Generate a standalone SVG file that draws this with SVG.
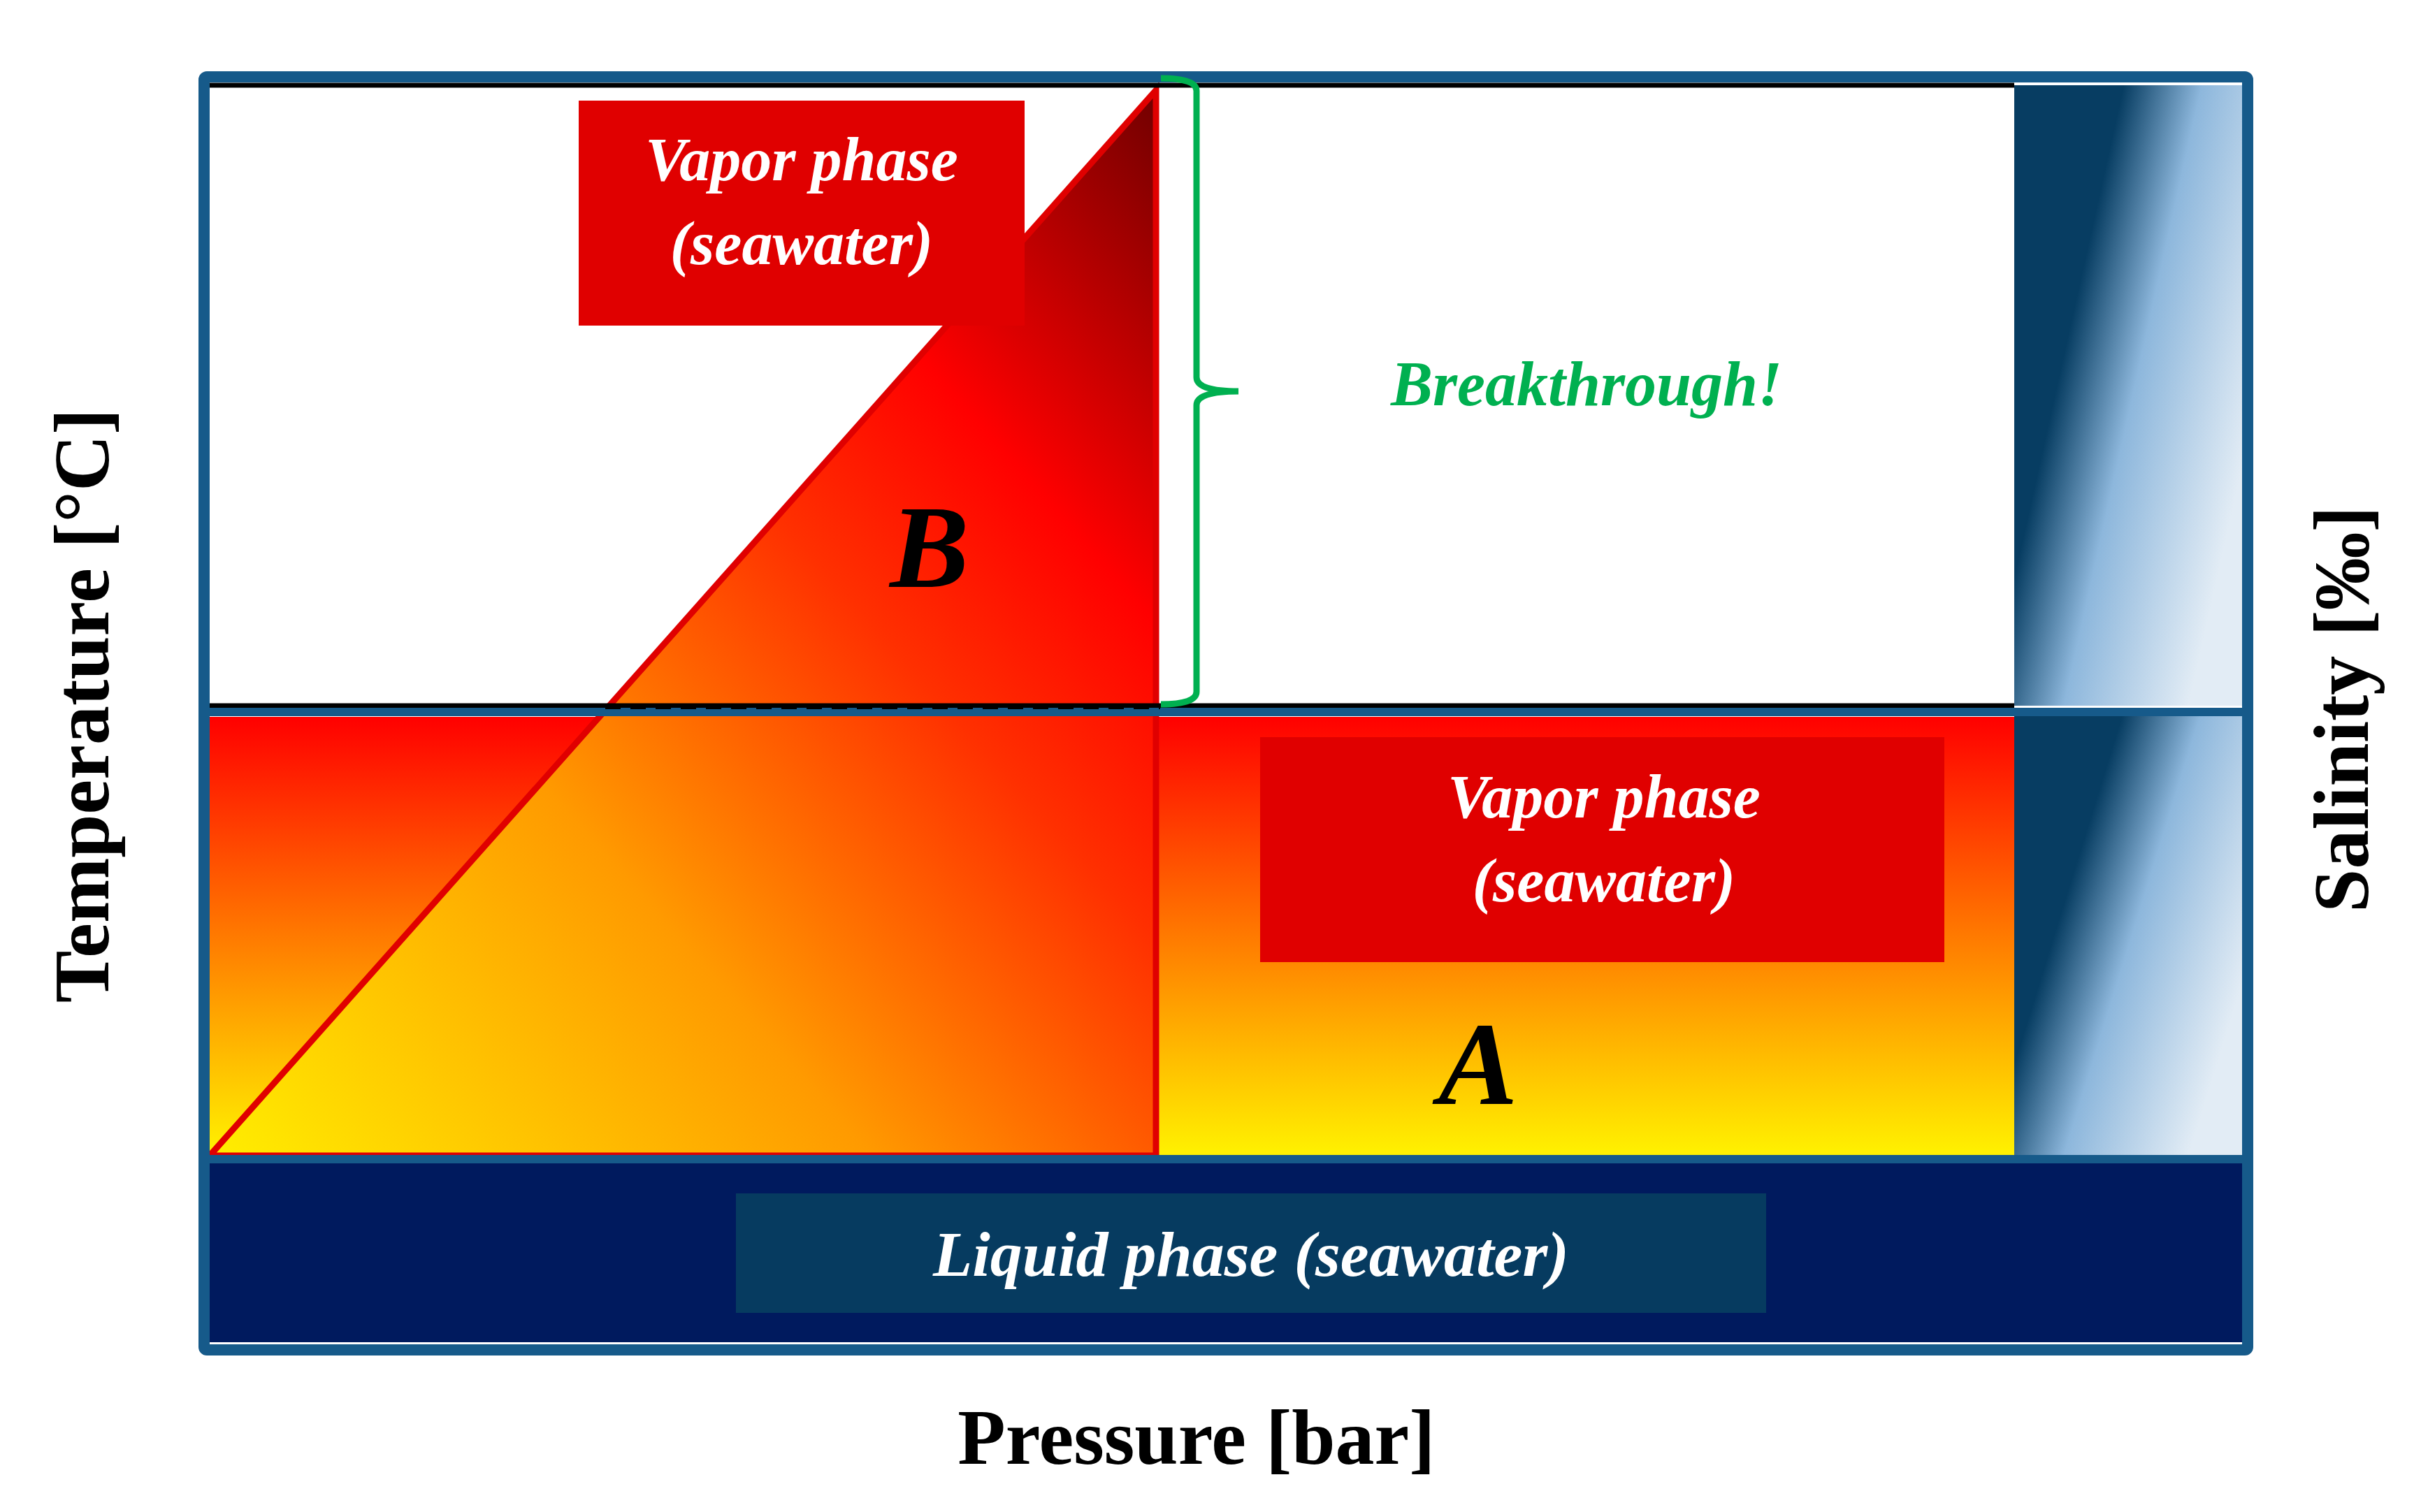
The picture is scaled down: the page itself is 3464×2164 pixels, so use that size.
<svg xmlns="http://www.w3.org/2000/svg" width="3464" height="2164" viewBox="0 0 3464 2164">
<defs>
<linearGradient id="heat" x1="0" y1="0" x2="0" y2="1"><stop offset="0" stop-color="#ff0000"/><stop offset="0.5" stop-color="#ff7a00"/><stop offset="1" stop-color="#fff200"/></linearGradient>
<linearGradient id="tri" x1="0" y1="1" x2="1" y2="0"><stop offset="0" stop-color="#ffee00"/><stop offset="0.35" stop-color="#ff9a00"/><stop offset="0.6" stop-color="#ff3000"/><stop offset="0.75" stop-color="#ff0000"/><stop offset="1" stop-color="#700000"/></linearGradient>
<linearGradient id="sal" x1="0" y1="0" x2="1" y2="0.6"><stop offset="0" stop-color="#073d62"/><stop offset="0.35" stop-color="#073d62"/><stop offset="0.6" stop-color="#8db7dc"/><stop offset="1" stop-color="#e2ecf5"/></linearGradient>
<style>
.lbl{font-family:"Liberation Serif",serif;font-style:italic;font-weight:bold;text-anchor:middle}
.ax{font-family:"Liberation Serif",serif;font-weight:bold;font-size:112px;text-anchor:middle;fill:#000}
</style>
</defs>
<rect width="3464" height="2164" fill="#fff"/>
<g id="zoneB-bg"><rect x="296" y="118" width="2586" height="896" fill="#fff"/></g>
<g id="zoneA"><rect x="300" y="1026" width="2582" height="628" fill="url(#heat)"/></g>
<g id="salinity"><rect x="2882" y="122" width="329" height="888" fill="url(#sal)"/><rect x="2882" y="1017" width="329" height="637" fill="url(#sal)"/></g>
<g id="liquid"><rect x="300" y="1665" width="2911" height="256" fill="#001a5e"/><rect x="1053" y="1708" width="1474" height="171" fill="#063b60"/><text class="lbl" x="1790" y="1826" font-size="92" fill="#fff">Liquid phase (seawater)</text></g>
<g id="triangle"><polygon points="300,1654 1654,129 1654,1654" fill="url(#tri)" stroke="#e00000" stroke-width="9" stroke-linejoin="miter"/></g>
<g id="frame" fill="none">
<line x1="296" y1="122" x2="2882" y2="122" stroke="#000" stroke-width="7"/>
<line x1="296" y1="1010" x2="2882" y2="1010" stroke="#000" stroke-width="7"/>
<line x1="296" y1="1019" x2="3216" y2="1019" stroke="#165a8a" stroke-width="12"/>
<line x1="296" y1="1659" x2="3216" y2="1659" stroke="#165a8a" stroke-width="12"/>
<rect x="292" y="110" width="2924" height="1822" stroke="#165a8a" stroke-width="16" rx="4"/>
</g>
<g id="connectors">
<line x1="866" y1="1013" x2="1660" y2="1013" stroke="#000" stroke-width="4" stroke-dasharray="22,14"/>
<path d="M1661,112 Q1712,112 1712,130 L1712,540 Q1712,560 1772,560 Q1712,560 1712,580 L1712,990 Q1712,1008 1661,1008" fill="none" stroke="#00b050" stroke-width="9"/>
</g>
<g id="vapor-top"><rect x="828" y="144" width="638" height="322" fill="#e00000"/><text class="lbl" x="1147" y="258" font-size="88" fill="#fff">Vapor phase</text><text class="lbl" x="1147" y="378" font-size="88" fill="#fff">(seawater)</text></g>
<g id="vapor-low"><rect x="1803" y="1055" width="979" height="322" fill="#e00000"/><text class="lbl" x="2295" y="1170" font-size="88" fill="#fff">Vapor phase</text><text class="lbl" x="2295" y="1290" font-size="88" fill="#fff">(seawater)</text></g>
<g id="break"><text class="lbl" x="2270" y="580" font-size="90" fill="#00b050">Breakthrough!</text></g>
<g id="labelA"><text class="lbl" x="2115" y="1580" font-size="170" fill="#000">A</text></g>
<g id="labelB"><text class="lbl" x="1330" y="840" font-size="170" fill="#000">B</text></g>
<g id="axes">
<text class="ax" x="1712" y="2095">Pressure [bar]</text>
<text class="ax" transform="translate(155,1010) rotate(-90)">Temperature [°C]</text>
<text class="ax" transform="translate(3388,1015) rotate(-90)">Salinity [‰]</text>
</g>
</svg>
